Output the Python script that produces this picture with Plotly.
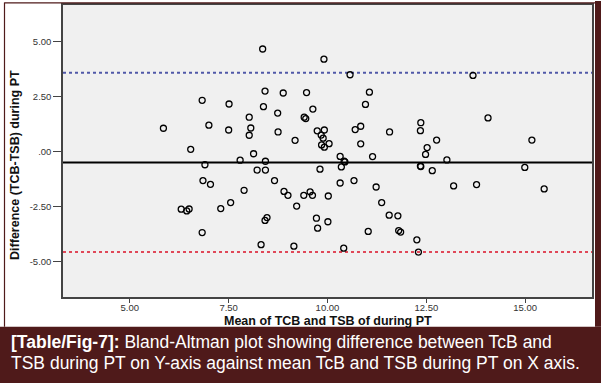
import plotly.graph_objects as go

# ---- data (mean of TcB & TSB, difference TcB-TSB) ----
mean_vals = [8.36, 8.42, 8.88, 6.83, 7.51, 8.38, 8.74, 8.02, 5.85, 7.00,
             7.50, 8.06, 8.02, 8.75, 9.18, 6.54, 8.13, 7.79, 8.43, 6.90,
             8.22, 8.43, 6.85, 7.04, 8.66, 7.89, 8.90, 9.00, 9.22, 6.30,
             6.44, 6.50, 7.30, 7.55, 8.47, 8.42, 6.83, 8.32, 9.15, 9.91,
             10.57, 13.68, 9.47, 11.06, 10.96, 9.63, 9.41, 9.45, 14.06, 9.74,
             9.92, 9.84, 9.89, 9.85, 9.92, 10.04, 10.70, 10.84, 10.84, 11.57,
             12.36, 12.35, 12.76, 12.52, 12.48, 15.17, 10.32, 11.14, 13.02, 10.42,
             10.44, 10.35, 9.81, 12.35, 12.36, 12.65, 14.99, 10.32, 10.67, 11.23,
             13.19, 13.77, 15.48, 9.40, 9.56, 9.62, 10.02, 11.37, 11.56, 11.78,
             9.72, 10.01, 9.75, 11.03, 11.80, 11.85, 12.26, 10.41, 12.30]
diff_vals = [4.65, 2.74, 2.65, 2.32, 2.15, 2.03, 1.74, 1.55, 1.05, 1.19,
             0.97, 1.06, 0.73, 0.88, 0.50, 0.09, -0.11, -0.40, -0.45, -0.61,
             -0.85, -0.85, -1.33, -1.50, -1.33, -1.77, -1.82, -2.00, -2.49, -2.63,
             -2.71, -2.62, -2.60, -2.33, -3.01, -3.14, -3.69, -4.24, -4.31, 4.19,
             3.48, 3.45, 2.67, 2.69, 2.13, 1.92, 1.55, 1.49, 1.52, 0.93,
             0.97, 0.74, 0.60, 0.29, 0.19, 0.35, 0.99, 1.14, 0.34, 0.88,
             1.30, 0.94, 0.51, 0.17, -0.14, 0.51, -0.23, -0.24, -0.39, -0.45,
             -0.48, -0.71, -0.81, -0.67, -0.69, -0.88, -0.73, -1.44, -1.33, -1.62,
             -1.57, -1.51, -1.71, -2.00, -1.84, -2.00, -2.03, -2.33, -2.90, -2.93,
             -3.04, -3.20, -3.49, -3.64, -3.60, -3.67, -4.02, -4.40, -4.58]

mean_diff = -0.51
upper_loa = 3.57
lower_loa = -4.58

x_ticks = [5, 7.5, 10, 12.5, 15]
x_tick_labels = ["5.00", "7.50", "10.00", "12.50", "15.00"]
y_ticks = [-5, -2.5, 0, 2.5, 5]
y_tick_labels = ["-5.00", "-2.50", ".00", "2.50", "5.00"]

x_title = "Mean of TCB and TSB of during PT"
y_title = "Difference (TCB-TSB) during PT"
caption_1 = "<b>[Table/Fig-7]:</b> Bland-Altman plot showing difference between TcB and"
caption_2 = "TSB during PT on Y-axis against mean TcB and TSB during PT on X axis."

# ---- layout geometry (pixels) ----
W, H = 601, 383
L, R, T, B = 63, 9, 3, 86
PW, PH = W - L - R, H - T - B
X_RANGE = [3.31, 16.69]
Y_RANGE = [-6.62, 6.65]
MAROON = "#4f1a1a"
FONT = "Liberation Sans, Arial, sans-serif"


def px(x):
    return (x - L) / PW


def py(y):
    return (H - B - y) / PH


fig = go.Figure()

for yv, col, dash in [(upper_loa, "#5058a8", "dot"),
                      (lower_loa, "#e04858", "dot"),
                      (mean_diff, "#000000", "solid")]:
    fig.add_trace(go.Scatter(x=X_RANGE, y=[yv, yv], mode="lines",
                             line=dict(color=col, width=2, dash=dash),
                             hoverinfo="skip", showlegend=False))

fig.add_trace(go.Scatter(x=mean_vals, y=diff_vals, mode="markers",
                         marker=dict(symbol="circle-open", size=6, color="#000000",
                                     line=dict(width=1.3, color="#000000")),
                         showlegend=False))

tickfont = dict(family=FONT, size=9.5, color="#333333")
fig.update_xaxes(range=X_RANGE, tickvals=x_ticks, ticktext=x_tick_labels,
                 showgrid=False, zeroline=False, ticks="outside", ticklen=4,
                 ticklabelstandoff=-3,
                 tickcolor="#444444", tickfont=tickfont,
                 showline=True, mirror=True, linecolor="#444444", linewidth=1.5)
fig.update_yaxes(range=Y_RANGE, tickvals=y_ticks, ticktext=y_tick_labels,
                 showgrid=False, zeroline=False, ticks="outside", ticklen=8,
                 tickcolor="#444444", tickfont=tickfont,
                 showline=True, mirror=True, linecolor="#444444", linewidth=1.5)

shapes = [
    # caption band
    dict(type="rect", xref="paper", yref="paper", x0=px(-1), x1=px(W + 1),
         y0=py(H + 1), y1=py(327), fillcolor=MAROON, line=dict(width=0)),
    # right strip
    dict(type="rect", xref="paper", yref="paper", x0=px(595), x1=px(W + 1),
         y0=py(327), y1=py(-1), fillcolor=MAROON, line=dict(width=0)),
    # thin left and top frame lines
    dict(type="line", xref="paper", yref="paper", x0=px(4.5), x1=px(4.5),
         y0=py(327), y1=py(0.5), line=dict(color=MAROON, width=1.2)),
    dict(type="line", xref="paper", yref="paper", x0=px(4.5), x1=px(596),
         y0=py(0.8), y1=py(0.8), line=dict(color=MAROON, width=1.2)),
]

annotations = [
    dict(text="<b>" + y_title + "</b>", xref="paper", yref="paper",
         x=px(15), y=py(164), xanchor="center", yanchor="middle", textangle=-90,
         showarrow=False, font=dict(family=FONT, size=12.5, color="#111111")),
    dict(text="<b>" + x_title + "</b>", xref="paper", yref="paper",
         x=0.5, y=py(321.5), xanchor="center", yanchor="middle",
         showarrow=False, font=dict(family=FONT, size=12.5, color="#111111")),
    dict(text=caption_1, xref="paper", yref="paper", x=px(9), y=py(342),
         xanchor="left", yanchor="middle", showarrow=False, align="left",
         font=dict(family=FONT, size=17.5, color="#ffffff")),
    dict(text=caption_2, xref="paper", yref="paper", x=px(9), y=py(363),
         xanchor="left", yanchor="middle", showarrow=False, align="left",
         font=dict(family=FONT, size=17.5, color="#ffffff")),
]

fig.update_layout(width=W, height=H, margin=dict(l=L, r=R, t=T, b=B),
                  paper_bgcolor="#ffffff", plot_bgcolor="#f0f0f0",
                  shapes=shapes, annotations=annotations, showlegend=False)

fig.write_html("out.html", config={"displayModeBar": False},
               post_script="document.body.style.margin='0';document.body.style.overflow='hidden';")
